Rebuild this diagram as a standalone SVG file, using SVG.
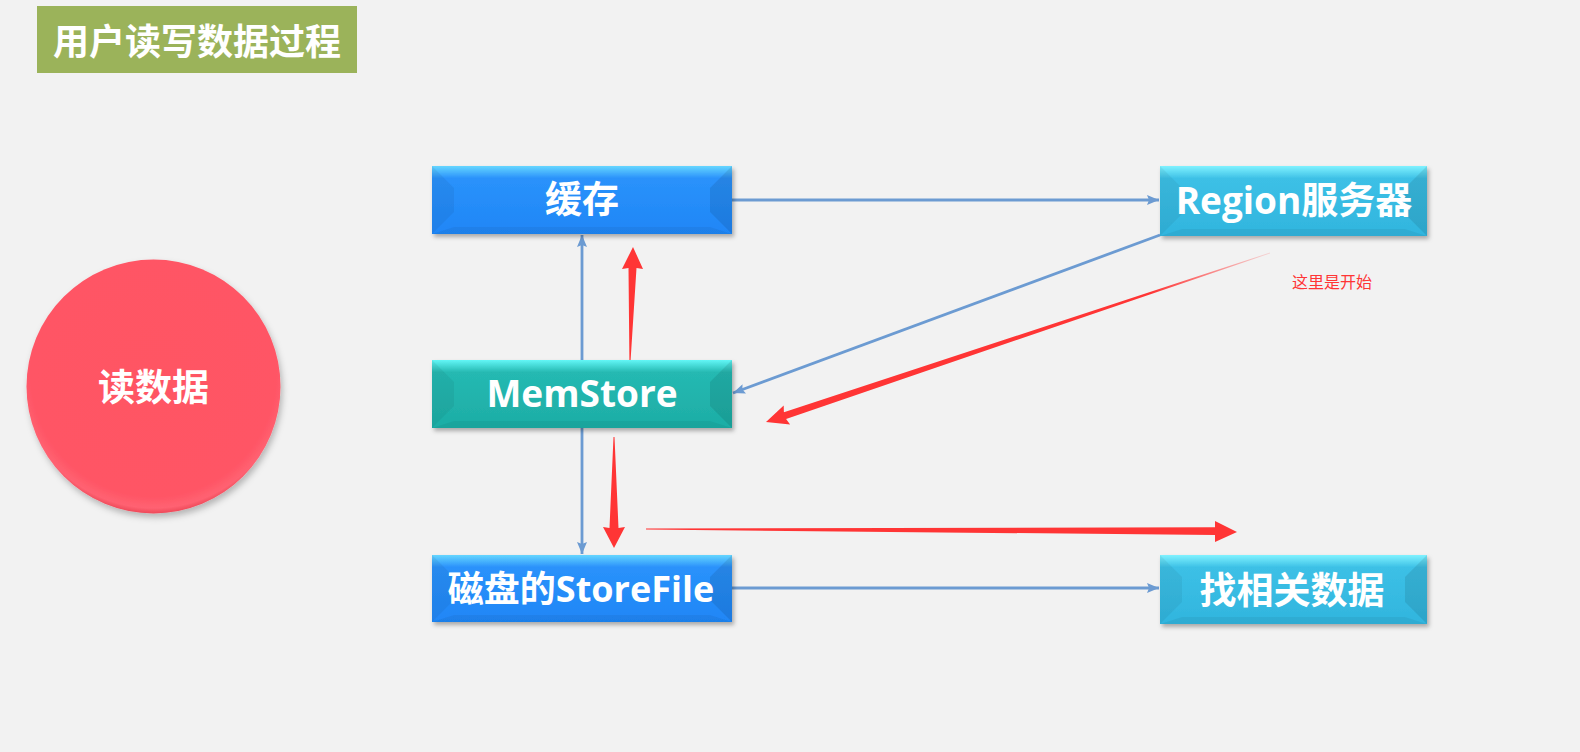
<svg xmlns="http://www.w3.org/2000/svg" width="1580" height="752" viewBox="0 0 1580 752">
<style>
.lbl{font-family:"Open Sans","Noto Sans CJK SC",sans-serif;font-weight:bold;fill:#ffffff;text-anchor:middle;}
.conn{fill:none;stroke:#6c9bd2;stroke-width:2.8;}
.red{fill:#ff3535;}
.sideL{fill:#000;opacity:0.05;}
.sideR{fill:#000;opacity:0.09;}
.bot{fill:#000;opacity:0.05;}
</style>
<defs>
<linearGradient id="gBlue" x1="0" y1="0" x2="0" y2="1">
<stop offset="0" stop-color="#66d6ff"/>
<stop offset="0.18" stop-color="#2a92fb"/>
<stop offset="1" stop-color="#1f86f6"/>
</linearGradient>
<linearGradient id="gCyan" x1="0" y1="0" x2="0" y2="1">
<stop offset="0" stop-color="#80f2ff"/>
<stop offset="0.18" stop-color="#3cc0e6"/>
<stop offset="1" stop-color="#31b5de"/>
</linearGradient>
<linearGradient id="gTeal" x1="0" y1="0" x2="0" y2="1">
<stop offset="0" stop-color="#62f6f6"/>
<stop offset="0.18" stop-color="#25b9b2"/>
<stop offset="1" stop-color="#1dada5"/>
</linearGradient>
<radialGradient id="gCircle" cx="0.5" cy="0.45" r="0.55">
<stop offset="0" stop-color="#ff5464"/>
<stop offset="0.88" stop-color="#ff5565"/>
<stop offset="0.96" stop-color="#ff6272"/>
<stop offset="1" stop-color="#ee4858"/>
</radialGradient>
<linearGradient id="gFade" gradientUnits="userSpaceOnUse" x1="1270" y1="253" x2="1150" y2="293">
<stop offset="0" stop-color="#ff3535" stop-opacity="0.15"/>
<stop offset="1" stop-color="#ff3535" stop-opacity="1"/>
</linearGradient>
<filter id="shadow" x="-10%" y="-20%" width="120%" height="150%">
<feDropShadow dx="2" dy="3" stdDeviation="2" flood-color="#000" flood-opacity="0.3"/>
</filter>
<filter id="cshadow" x="-10%" y="-10%" width="125%" height="125%">
<feDropShadow dx="2" dy="4" stdDeviation="3" flood-color="#000" flood-opacity="0.25"/>
</filter>
<marker id="arr" viewBox="0 0 12 10" refX="12" refY="5" markerUnits="userSpaceOnUse" markerWidth="12" markerHeight="10" orient="auto">
<path d="M0,0 L12,5 L0,10 L2,5 z" fill="#6c9bd2"/>
</marker>
</defs>
<rect x="0" y="0" width="1580" height="752" fill="#f2f2f2"/>

<g id="title">
<rect x="37" y="6" width="320" height="67" fill="#9bb35a"/>
<text class="lbl" x="197" y="55" font-size="36">用户读写数据过程</text>
</g>

<g id="read-data">
<circle cx="153.5" cy="386.5" r="127" fill="url(#gCircle)" filter="url(#cshadow)"/>
<text class="lbl" x="153.5" y="401" font-size="37">读数据</text>
</g>

<g id="connectors">
<line class="conn" x1="732" y1="200" x2="1159" y2="200" marker-end="url(#arr)"/>
<line class="conn" x1="1160" y1="235" x2="733" y2="393" marker-end="url(#arr)"/>
<line class="conn" x1="582" y1="360" x2="582" y2="235" marker-end="url(#arr)"/>
<line class="conn" x1="582" y1="428" x2="582" y2="554" marker-end="url(#arr)"/>
<line class="conn" x1="732" y1="588" x2="1159" y2="588" marker-end="url(#arr)"/>
</g>

<g id="cache">
<g filter="url(#shadow)"><rect x="432" y="166" width="300" height="68" fill="url(#gBlue)"/></g>
<polygon class="sideL" points="432,166 454,188 454,212 432,234"/>
<polygon class="sideR" points="732,166 710,188 710,212 732,234"/>
<polygon class="bot" points="432,234 454,227 710,227 732,234"/>
<text class="lbl" x="582" y="213" font-size="37">缓存</text>
</g>

<g id="region-server">
<g filter="url(#shadow)"><rect x="1160" y="166" width="267" height="70" fill="url(#gCyan)"/></g>
<polygon class="sideL" points="1160,166 1182,188 1182,214 1160,236"/>
<polygon class="sideR" points="1427,166 1405,188 1405,214 1427,236"/>
<polygon class="bot" points="1160,236 1182,229 1405,229 1427,236"/>
<text class="lbl" x="1294" y="214" font-size="37">Region服务器</text>
</g>

<g id="memstore">
<g filter="url(#shadow)"><rect x="432" y="360" width="300" height="68" fill="url(#gTeal)"/></g>
<polygon class="sideL" points="432,360 454,382 454,406 432,428"/>
<polygon class="sideR" points="732,360 710,382 710,406 732,428"/>
<polygon class="bot" points="432,428 454,421 710,421 732,428"/>
<text class="lbl" x="582" y="407" font-size="37">MemStore</text>
</g>

<g id="storefile">
<g filter="url(#shadow)"><rect x="432" y="555" width="300" height="67" fill="url(#gBlue)"/></g>
<polygon class="sideL" points="432,555 454,577 454,600 432,622"/>
<polygon class="sideR" points="732,555 710,577 710,600 732,622"/>
<polygon class="bot" points="432,622 454,615 710,615 732,622"/>
<text class="lbl" x="581" y="602" font-size="36">磁盘的StoreFile</text>
</g>

<g id="find-data">
<g filter="url(#shadow)"><rect x="1160" y="555" width="267" height="69" fill="url(#gCyan)"/></g>
<polygon class="sideL" points="1160,555 1182,577 1182,602 1160,624"/>
<polygon class="sideR" points="1427,555 1405,577 1405,602 1427,624"/>
<polygon class="bot" points="1160,624 1182,617 1405,617 1427,624"/>
<text class="lbl" x="1292" y="604" font-size="37">找相关数据</text>
</g>

<g id="red-arrows">
<polygon fill="url(#gFade)" points="766,422 790.1,424.5 786.1,418.9 1270.1,253.4 1269.9,252.6 783.9,412.3 783.7,405.5"/>
<polygon class="red" points="633,247 643,269 636.5,268 630.6,360 629.4,360 628.5,268 622,269"/>
<polygon class="red" points="613.5,437 614.5,437 618.5,528 625,527 614,548 603,527 609.5,528"/>
<polygon class="red" points="646,528.4 1215,527.3 1215,521 1237,532 1215,542 1215,535 646,529.6"/>
</g>

<g id="note">
<text x="1292" y="288" font-size="16" fill="#ff3535" font-family="'Noto Sans CJK SC',sans-serif">这里是开始</text>
</g>
</svg>
